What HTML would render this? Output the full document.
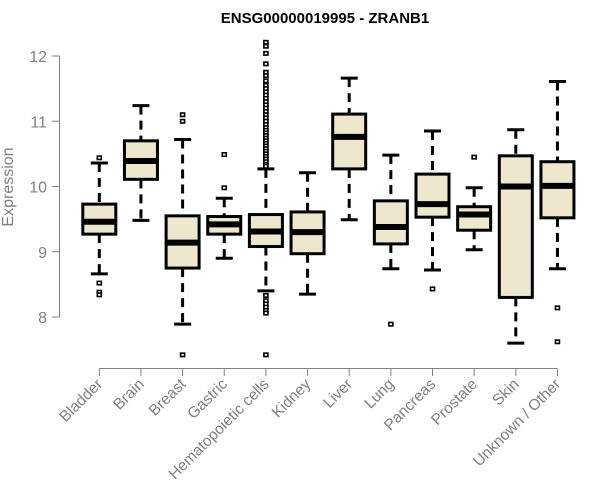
<!DOCTYPE html>
<html><head><meta charset="utf-8"><style>
body{margin:0;background:#fff}
svg{display:block;font-family:"Liberation Sans",Arial,sans-serif}
</style></head><body>
<svg id="chart" width="600" height="500" xmlns="http://www.w3.org/2000/svg">
<text x="325" y="23" text-anchor="middle" font-weight="bold" font-size="15" fill="#000">ENSG00000019995 - ZRANB1</text>
<text transform="translate(13,187) rotate(-90)" text-anchor="middle" font-size="16" fill="#808080">Expression</text>
<g id="marks"></g>
</svg>
<script>
const categories=["Bladder","Brain","Breast","Gastric","Hematopoietic cells","Kidney","Liver","Lung","Pancreas","Prostate","Skin","Unknown / Other"];
const lowWhisker=[8.66,9.48,7.89,8.90,8.40,8.35,9.49,8.74,8.72,9.03,7.60,8.74];
const q1=[9.27,10.11,8.75,9.27,9.08,8.97,10.27,9.12,9.53,9.33,8.30,9.52];
const median=[9.46,10.39,9.14,9.42,9.31,9.30,10.76,9.38,9.73,9.57,10.00,10.01];
const q3=[9.73,10.70,9.55,9.54,9.57,9.61,11.11,9.78,10.19,9.69,10.47,10.38];
const highWhisker=[10.36,11.24,10.72,9.82,10.27,10.21,11.66,10.48,10.85,9.98,10.87,11.61];
const outliers=[
 [10.44,8.52,8.38,8.34],
 [],
 [11.10,11.00,7.42],
 [10.49,9.98],
 [12.21,12.15,12.04,11.88,11.75,11.70,11.62,11.55,11.50,11.45,11.40,11.35,11.30,11.25,11.20,11.15,11.10,11.05,11.00,10.95,10.90,10.86,10.82,10.78,10.74,10.70,10.66,10.62,10.58,10.54,10.50,10.46,10.42,10.38,10.34,10.31,8.33,8.25,8.20,8.15,8.10,8.06,7.42],
 [],[],
 [7.89],
 [8.43],
 [10.45],
 [],
 [8.14,7.62]
];
const yTicks=[8,9,10,11,12];
const NS="http://www.w3.org/2000/svg";
const svg=document.getElementById("marks");
function y(v){return 317-(v-8)*65.25;}
function x(i){return 99.3+41.65*i;}
function mk(tag,attrs,parent){const e=document.createElementNS(NS,tag);for(const k in attrs)e.setAttribute(k,attrs[k]);(parent||svg).appendChild(e);return e;}
let ya=mk("line",{x1:59.5,x2:59.5,y1:y(12),y2:y(8),stroke:"#808080"});


yTicks.forEach(t=>{
 let tk=mk("line",{x1:52,x2:59.5,y1:y(t),y2:y(t),stroke:"#808080"});
 
 
 let tl=mk("text",{x:47,y:y(t)+6,"text-anchor":"end","font-size":"16",fill:"#808080"});
 tl.textContent=t;
 
 
});
let xa=mk("line",{x1:x(0),x2:x(categories.length-1),y1:368.5,y2:368.5,stroke:"#808080"});


categories.forEach((c,i)=>{
 const cx=x(i);
 let tk=mk("line",{x1:cx,x2:cx,y1:368.5,y2:376,stroke:"#808080"});
 
 
 let tl=mk("text",{transform:`translate(${cx+4},${385}) rotate(-45)`,"text-anchor":"end","font-size":"15.5",fill:"#808080"});
 tl.textContent=c;
 
 
 const g=mk("g",{});
 
 
 mk("line",{x1:cx,x2:cx,y1:y(highWhisker[i]),y2:y(q3[i]),stroke:"#000","stroke-width":3,"stroke-dasharray":"9,6"},g);
 mk("line",{x1:cx,x2:cx,y1:y(q1[i]),y2:y(lowWhisker[i]),stroke:"#000","stroke-width":3,"stroke-dasharray":"9,6"},g);
 mk("line",{x1:cx-8.5,x2:cx+8.5,y1:y(highWhisker[i]),y2:y(highWhisker[i]),stroke:"#000","stroke-width":3},g);
 mk("line",{x1:cx-8.5,x2:cx+8.5,y1:y(lowWhisker[i]),y2:y(lowWhisker[i]),stroke:"#000","stroke-width":3},g);
 mk("rect",{x:cx-16.5,y:y(q3[i]),width:33,height:y(q1[i])-y(q3[i]),fill:"#ede8cd",stroke:"#000","stroke-width":3},g);
 mk("line",{x1:cx-16.5,x2:cx+16.5,y1:y(median[i]),y2:y(median[i]),stroke:"#000","stroke-width":6},g);
 outliers[i].forEach(v=>{
  let o=mk("rect",{x:cx-2,y:y(v)-1.7,width:4,height:3.4,fill:"#fff",stroke:"#000","stroke-width":1.6},g);
  
  
 });
});
</script>
</body></html>
